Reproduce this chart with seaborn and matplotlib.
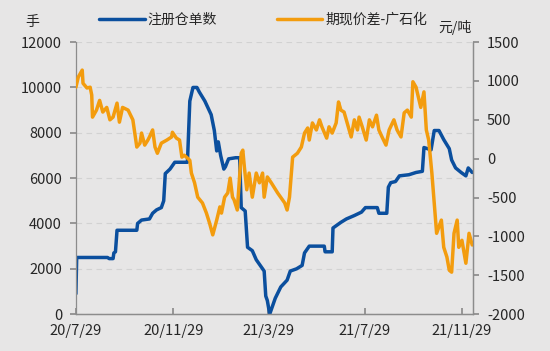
import pandas as pd
import seaborn as sns
import matplotlib.pyplot as plt

start = pd.Timestamp("2020-07-29")

# 注册仓单数 (left axis, 手) - days since 2020-07-29
warrant_days = [0, 1, 40, 42, 47, 48, 50, 52, 77, 78, 83, 93, 97, 102, 108, 111, 113,
                119, 125, 141, 144, 148, 153, 156, 163, 171, 175, 178, 180, 183, 187,
                189, 193, 202, 207, 209, 214, 217, 223, 228, 235, 238, 240, 242, 245,
                252, 259, 267, 271, 279, 286, 289, 295, 314, 315, 324, 325, 335, 342,
                352, 361, 366, 381, 383, 393, 395, 398, 404, 409, 421, 430, 438, 440,
                449, 453, 459, 465, 472, 475, 480, 487, 493, 496, 501]
warrant_vals = [900, 2500, 2500, 2450, 2450, 2700, 2750, 3700, 3700, 4000, 4150, 4200,
                4450, 4600, 4700, 5000, 6200, 6400, 6700, 6700, 9400, 10000, 10000, 9800,
                9400, 8800, 8100, 7200, 7600, 7000, 6400, 6500, 6850, 6900, 6900, 4700,
                4550, 2950, 2800, 2400, 2050, 1900, 800, 600, 0, 700, 1200, 1500, 1900,
                2000, 2150, 2700, 3000, 3000, 2750, 2750, 3800, 4050, 4200, 4350, 4500,
                4700, 4700, 4450, 4450, 5600, 5800, 5850, 6100, 6150, 6250, 6300, 7350,
                7250, 8100, 8100, 7700, 7300, 6800, 6450, 6250, 6100, 6450, 6250]

# 期现价差-广石化 (right axis, 元/吨)
spread_days = [0, 3, 8, 9, 14, 18, 20, 21, 26, 30, 34, 39, 43, 47, 52, 55, 59, 66, 72,
               77, 81, 83, 87, 91, 93, 97, 100, 103, 108, 115, 121, 122, 127, 131, 134,
               137, 144, 146, 150, 154, 160, 165, 169, 173, 178, 182, 184, 188, 192, 195,
               198, 200, 204, 209, 211, 213, 216, 219, 223, 228, 232, 236, 238, 242, 247,
               255, 264, 267, 270, 274, 280, 285, 289, 293, 295, 299, 304, 308, 311, 317,
               320, 324, 329, 332, 335, 339, 343, 348, 352, 356, 358, 362, 367, 371, 375,
               380, 383, 387, 392, 396, 402, 406, 411, 415, 419, 424, 426, 430, 433, 436,
               440, 443, 446, 450, 455, 456, 462, 465, 469, 472, 475, 478, 482, 484, 488,
               493, 497, 501]
spread_vals = [920, 1050, 1140, 970, 910, 920, 820, 535, 625, 750, 600, 660, 500, 535,
               715, 470, 660, 625, 500, 150, 200, 330, 175, 240, 280, 370, 150, 70, 200,
               240, 280, 340, 265, 240, 20, 45, -20, -185, -310, -495, -570, -700, -830,
               -980, -790, -620, -700, -495, -440, -250, -495, -530, -660, 70, 110, -110,
               -400, -185, -495, -185, -310, -185, -495, -235, -310, -440, -570, -660,
               -495, 20, 70, 150, 330, 395, 240, 460, 370, 500, 410, 265, 410, 330, 460,
               730, 625, 600, 460, 280, 500, 370, 535, 410, 240, 500, 410, 560, 370, 280,
               175, 370, 500, 370, 280, 590, 625, 535, 990, 920, 790, 660, 860, 370, 240,
               -185, -830, -960, -790, -1140, -1265, -1435, -1460, -960, -790, -1140,
               -1050, -1345, -960, -1110]

tick_dates = ["2020-07-29", "2020-11-29", "2021-03-29", "2021-07-29", "2021-11-29"]
tick_labels = ["20/7/29", "20/11/29", "21/3/29", "21/7/29", "21/11/29"]

warrant = pd.DataFrame({"date": start + pd.to_timedelta(warrant_days, unit="D"),
                        "value": warrant_vals})
spread = pd.DataFrame({"date": start + pd.to_timedelta(spread_days, unit="D"),
                       "value": spread_vals})

bg = "#e7e6e6"
sns.set_theme(style="white", rc={"axes.facecolor": bg, "figure.facecolor": bg})
plt.rcParams["font.family"] = ["Noto Sans CJK SC", "DejaVu Sans"]
plt.rcParams["axes.unicode_minus"] = False

fig = plt.figure(figsize=(5.5, 3.51), dpi=100)
ax = fig.add_axes([0.138, 0.105, 0.722, 0.775])
ax2 = ax.twinx()

blue = "#0b4f9e"
orange = "#f39c0e"
sns.lineplot(data=warrant, x="date", y="value", ax=ax, color=blue, linewidth=2.5,
             label="注册仓单数", legend=False)
sns.lineplot(data=spread, x="date", y="value", ax=ax2, color=orange, linewidth=2.5,
             label="期现价差-广石化", legend=False)

ax.set_ylim(0, 12000)
ax.set_yticks(range(0, 12001, 2000))
ax2.set_ylim(-2000, 1500)
ax2.set_yticks(range(-2000, 1501, 500))
ax.set_xlim(start, pd.Timestamp("2021-12-13"))
ax.set_xticks(pd.to_datetime(tick_dates))
ax.set_xticklabels(tick_labels)
ax.set_xlabel("")
ax.set_ylabel("")
ax2.set_ylabel("")

ax.yaxis.grid(True, linestyle=(0, (5, 4)), color="#d2d2d2", linewidth=0.8)
for a in (ax, ax2):
    a.spines["top"].set_visible(False)
    for s in ("left", "right", "bottom"):
        a.spines[s].set_color("#8c8c8c")
        a.spines[s].set_linewidth(0.9)
ax2.spines["left"].set_visible(False)
ax.tick_params(axis="y", direction="out", length=4, color="#8c8c8c", labelsize=10.5,
               pad=6, left=True)
ax.tick_params(axis="x", direction="in", length=4, color="#8c8c8c", labelsize=10.5,
               pad=7, bottom=True)
ax2.tick_params(axis="y", direction="out", length=4, color="#8c8c8c", labelsize=10.5,
                pad=6, right=True)

fig.text(0.058, 0.937, "手", ha="center", va="center", fontsize=10)
fig.text(0.828, 0.922, "元/吨", ha="center", va="center", fontsize=10)

handles = ax.get_lines()[:1] + ax2.get_lines()[:1]
fig.legend(handles, ["注册仓单数", "期现价差-广石化"], loc="center",
           bbox_to_anchor=(0.478, 0.943), ncol=2, frameon=False, fontsize=10,
           handlelength=3.3, handletextpad=0.2, columnspacing=4.3)

fig.savefig("out.png", dpi=100, facecolor=bg)
